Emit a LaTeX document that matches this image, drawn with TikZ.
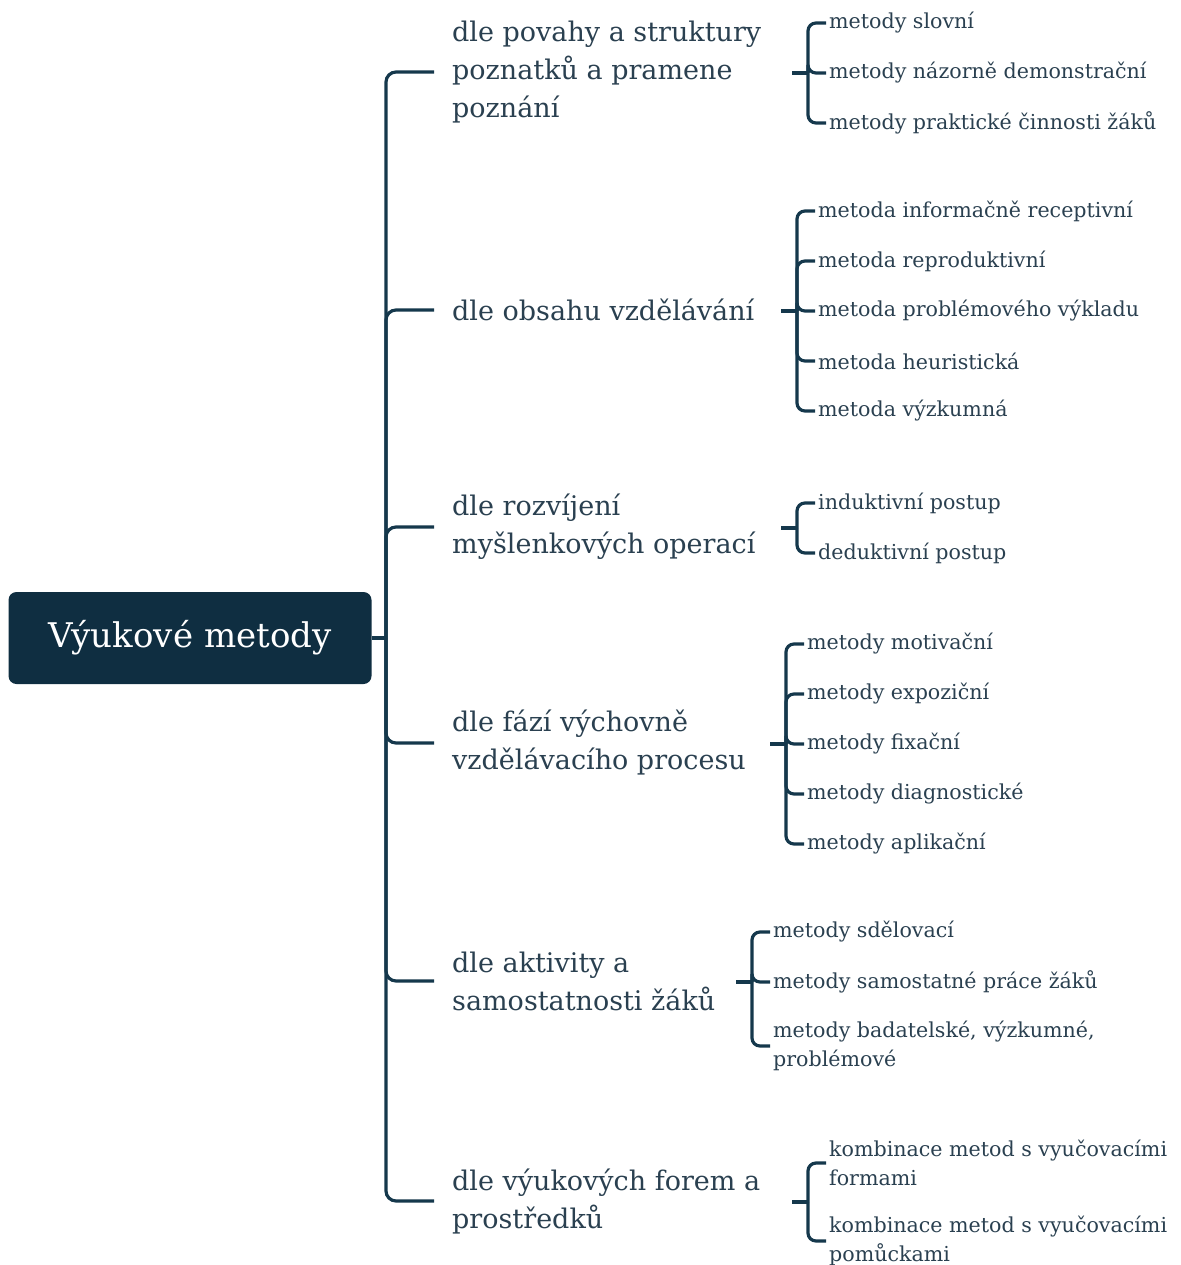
\documentclass[tikz,border=0pt]{standalone}
\usepackage{fontspec}
\setmainfont{DejaVu Serif}
\definecolor{rootfill}{HTML}{0F2E41}
\definecolor{inkline}{HTML}{15384C}
\definecolor{inktext}{HTML}{2A4050}
\begin{document}
\begin{tikzpicture}[x=1pt,y=-1pt,
  every node/.style={text=inktext},
  root/.style={fill=rootfill,text=white,rounded corners=8pt,minimum width=363pt,
    minimum height=92pt,font=\fontsize{34}{40}\selectfont},
  branch/.style={anchor=west,align=left,inner xsep=18pt,inner ysep=0pt,
    font=\fontsize{27}{38}\selectfont},
  leaf/.style={anchor=west,align=left,inner xsep=3pt,inner ysep=0pt,
    font=\fontsize{20.6}{29}\selectfont},
  link/.style={draw=inkline,line width=3.2pt,rounded corners=10pt}]
\useasboundingbox (0,0) rectangle (1180,1265);
% root and main branches
\node[root] (root) at (190,638) {Výukové metody};
\node[branch] (povaha) at (434,72) {dle povahy a struktury\\poznatků a pramene\\poznání};
\node[branch] (obsah) at (434,310) {dle obsahu vzdělávání};
\node[branch] (mysleni) at (434,527) {dle rozvíjení\\myšlenkových operací};
\node[branch] (faze) at (434,743) {dle fází výchovně\\vzdělávacího procesu};
\node[branch] (aktivita) at (434,981) {dle aktivity a\\samostatnosti žáků};
\node[branch] (formy) at (434,1201) {dle výukových forem a\\prostředků};
\coordinate (trunk) at (386,638);
\draw[link] (root.east) -- (trunk);
\foreach \b in {povaha,obsah,mysleni,faze,aktivita,formy}
  \draw[link] (trunk) |- (\b.west);
% leaves of each branch
\node[leaf] (slovni) at (826,23) {metody slovní};
\node[leaf] (nazorne) at (826,73) {metody názorně demonstrační};
\node[leaf] (prakticke) at (826,123) {metody praktické činnosti žáků};
\node[leaf] (receptivni) at (815,211) {metoda informačně receptivní};
\node[leaf] (reproduktivni) at (815,261) {metoda reproduktivní};
\node[leaf] (problemovy) at (815,311) {metoda problémového výkladu};
\node[leaf] (heuristicka) at (815,361) {metoda heuristická};
\node[leaf] (vyzkumna) at (815,411) {metoda výzkumná};
\node[leaf] (induktivni) at (815,503) {induktivní postup};
\node[leaf] (deduktivni) at (815,553) {deduktivní postup};
\node[leaf] (motivacni) at (804,644) {metody motivační};
\node[leaf] (expozicni) at (804,694) {metody expoziční};
\node[leaf] (fixacni) at (804,744) {metody fixační};
\node[leaf] (diagnosticke) at (804,794) {metody diagnostické};
\node[leaf] (aplikacni) at (804,844) {metody aplikační};
\node[leaf] (sdelovaci) at (770,932) {metody sdělovací};
\node[leaf] (samostatne) at (770,982) {metody samostatné práce žáků};
\node[leaf] (badatelske) at (770,1046) {metody badatelské, výzkumné,\\problémové};
\node[leaf] (kformy) at (826,1163) {kombinace metod s vyučovacími\\formami};
\node[leaf] (kpomucky) at (826,1241) {kombinace metod s vyučovacími\\pomůckami};
% brackets
\coordinate (j1) at (808,73);
\coordinate (j2) at (797,311);
\coordinate (j3) at (797,528);
\coordinate (j4) at (786,744);
\coordinate (j5) at (752,982);
\coordinate (j6) at (808,1202);
\foreach \j in {j1,j2,j3,j4,j5,j6}
  \draw[link] ([xshift=-16pt]\j) -- (\j);
\foreach \l in {slovni,nazorne,prakticke}
  \draw[link,rounded corners=8pt] (j1) |- (\l.west);
\foreach \l in {receptivni,reproduktivni,problemovy,heuristicka,vyzkumna}
  \draw[link,rounded corners=8pt] (j2) |- (\l.west);
\foreach \l in {induktivni,deduktivni}
  \draw[link,rounded corners=8pt] (j3) |- (\l.west);
\foreach \l in {motivacni,expozicni,fixacni,diagnosticke,aplikacni}
  \draw[link,rounded corners=8pt] (j4) |- (\l.west);
\foreach \l in {sdelovaci,samostatne,badatelske}
  \draw[link,rounded corners=8pt] (j5) |- (\l.west);
\foreach \l in {kformy,kpomucky}
  \draw[link,rounded corners=8pt] (j6) |- (\l.west);
\end{tikzpicture}
\end{document}
